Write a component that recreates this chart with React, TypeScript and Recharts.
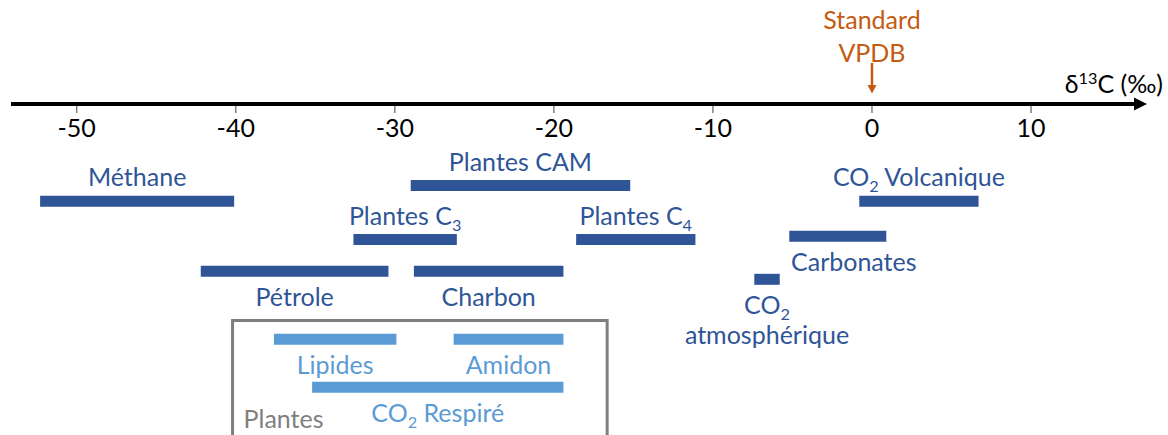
import React from 'react'
import { ComposedChart, XAxis, YAxis, Scatter, ReferenceDot, ReferenceArea } from 'recharts'

// Gammes de δ13C (‰)
const NOMS = [
  'Méthane',
  'Plantes CAM',
  'Plantes C3',
  'Plantes C4',
  'CO2 Volcanique',
  'Carbonates',
  'Pétrole',
  'Charbon',
  'CO2 atmosphérique',
  'Lipides',
  'Amidon',
  'CO2 Respiré'
]
const DEBUTS = [-52.3, -29.0, -32.6, -18.6, -0.8, -5.2, -42.2, -28.8, -7.4, -37.6, -26.3, -35.2]
const FINS = [-40.1, -15.2, -26.1, -11.1, 6.7, 0.9, -30.4, -19.4, -5.8, -29.9, -19.4, -19.4]
// rang vertical de chaque barre (0 = axe)
const RANGS = [9.73, 8.15, 13.55, 13.55, 9.73, 13.23, 16.73, 16.73, 17.53, 23.53, 23.53, 28.33]
// composés des plantes (bleu clair) ou réservoirs (bleu foncé)
const GROUPES = ['reservoir', 'reservoir', 'reservoir', 'reservoir', 'reservoir', 'reservoir', 'reservoir', 'reservoir', 'reservoir', 'plante', 'plante', 'plante']

const GRADUATIONS = [-50, -40, -30, -20, -10, 0, 10]
const DOMAINE_X = [-54.13, 16.85]
const DOMAINE_Y = [0, 33.1]
const STANDARD_VPDB = 0
// cadre "Plantes"
const BOITE_X = [-40.2, -16.65]
const BOITE_Y = [21.65, 35]

const FONT = 'Lato, "Open Sans", sans-serif'
const TAILLE = 25
const FONCE = '#2F5597'
const CLAIR = '#5B9BD5'
const ORANGE = '#C55A11'
const GRIS = '#7F7F7F'

// placement des étiquettes (style)
const DESSOUS = ['Carbonates', 'Pétrole', 'Charbon', 'CO2 atmosphérique', 'Lipides', 'Amidon', 'CO2 Respiré']
const DECALAGE: Record<string, number> = { Carbonates: 16 }
const SUR_DEUX_LIGNES = ['CO2 atmosphérique']

// chiffres après une lettre -> indice
const Riche = ({ texte, taille }: { texte: string; taille: number }) => {
  const morceaux = texte.split(/(\d+)/)
  const out: React.ReactNode[] = []
  let bas = false
  morceaux.forEach((m, i) => {
    if (m === '') return
    if (i % 2 === 1) {
      out.push(
        <tspan key={i} fontSize={taille * 0.65} dy={6}>
          {m}
        </tspan>
      )
      bas = true
    } else {
      out.push(
        <tspan key={i} dy={bas ? -6 : 0}>
          {m}
        </tspan>
      )
      bas = false
    }
  })
  return <>{out}</>
}

const Vide = () => <g />

const Etiquette = ({ cx, cy, nom, couleur }: any) => {
  const dessous = DESSOUS.includes(nom)
  const x = cx + (DECALAGE[nom] || 0)
  const lignes = SUR_DEUX_LIGNES.includes(nom) ? nom.split(' ') : [nom]
  const y0 = dessous ? cy + 35 : cy - 15
  return (
    <g>
      {lignes.map((l: string, k: number) => (
        <text key={k} x={x} y={y0 + k * 30} textAnchor="middle" fill={couleur} fontSize={TAILLE} fontFamily={FONT}>
          <Riche texte={l} taille={TAILLE} />
        </text>
      ))}
    </g>
  )
}

const Graduation = ({ x, y, payload }: any) => (
  <g>
    <line x1={x} x2={x} y1={y + 2} y2={y + 9} stroke="#808080" strokeWidth={1.5} />
    <text x={x} y={y + 33} textAnchor="middle" fill="#000" fontSize={TAILLE} fontFamily={FONT}>
      {payload.value}
    </text>
  </g>
)

const Fleche = ({ cx, cy }: any) => (
  <g>
    <polygon points={`${cx - 6},${cy - 6.5} ${cx + 7},${cy} ${cx - 6},${cy + 6.5}`} fill="#000" />
    <text x={cx + 23} y={cy - 11} textAnchor="end" fill="#000" fontSize={TAILLE} fontFamily={FONT}>
      δ
      <tspan fontSize={TAILLE * 0.65} dy={-9}>
        13
      </tspan>
      <tspan dy={9}>C (‰)</tspan>
    </text>
  </g>
)

const Standard = ({ cx, cy }: any) => (
  <g>
    <text x={cx} y={cy - 75} textAnchor="middle" fill={ORANGE} fontSize={TAILLE} fontFamily={FONT}>
      Standard
    </text>
    <text x={cx} y={cy - 42} textAnchor="middle" fill={ORANGE} fontSize={TAILLE} fontFamily={FONT}>
      VPDB
    </text>
    <line x1={cx} x2={cx} y1={cy - 41} y2={cy - 18} stroke={ORANGE} strokeWidth={2.5} />
    <polygon points={`${cx - 4.5},${cy - 19} ${cx + 4.5},${cy - 19} ${cx},${cy - 10.5}`} fill={ORANGE} />
  </g>
)

const TextePlantes = ({ cx, cy }: any) => (
  <text x={cx + 11} y={cy} textAnchor="start" fill={GRIS} fontSize={TAILLE} fontFamily={FONT}>
    Plantes
  </text>
)

export default function App() {
  return (
    <div style={{ position: 'absolute', left: 0, top: 0, background: '#fff' }}>
      <ComposedChart width={1168} height={435} margin={{ top: 103, right: 28, bottom: 0, left: 11 }}>
        <XAxis
          type="number"
          dataKey="x"
          domain={DOMAINE_X}
          ticks={GRADUATIONS}
          interval={0}
          orientation="top"
          height={1}
          tickSize={0}
          tickMargin={0}
          axisLine={{ stroke: '#000', strokeWidth: 4 }}
          tick={<Graduation />}
        />
        <YAxis type="number" dataKey="y" domain={DOMAINE_Y} reversed hide />
        <ReferenceArea
          x1={BOITE_X[0]}
          x2={BOITE_X[1]}
          y1={BOITE_Y[0]}
          y2={BOITE_Y[1]}
          fill="none"
          fillOpacity={0}
          stroke={GRIS}
          strokeWidth={3}
          ifOverflow="visible"
        />
        {NOMS.map((nom, i) => {
          const couleur = GROUPES[i] === 'plante' ? CLAIR : FONCE
          return (
            <Scatter
              key={nom}
              name={nom}
              data={[
                { x: DEBUTS[i], y: RANGS[i] },
                { x: FINS[i], y: RANGS[i] }
              ]}
              fill={couleur}
              line={{ stroke: couleur, strokeWidth: 11 }}
              shape={<Vide />}
              isAnimationActive={false}
            />
          )
        })}
        {NOMS.map((nom, i) => {
          const couleur = GROUPES[i] === 'plante' ? CLAIR : FONCE
          return (
            <ReferenceDot
              key={'lbl-' + nom}
              x={(DEBUTS[i] + FINS[i]) / 2}
              y={RANGS[i]}
              r={0}
              ifOverflow="visible"
              shape={(p: any) => <Etiquette cx={p.cx} cy={p.cy} nom={nom} couleur={couleur} />}
            />
          )
        })}
        <ReferenceDot x={BOITE_X[0]} y={32.4} r={0} ifOverflow="visible" shape={(p: any) => <TextePlantes cx={p.cx} cy={p.cy} />} />
        <ReferenceDot x={STANDARD_VPDB} y={0} r={0} ifOverflow="visible" shape={(p: any) => <Standard cx={p.cx} cy={p.cy} />} />
        <ReferenceDot x={DOMAINE_X[1]} y={0} r={0} ifOverflow="visible" shape={(p: any) => <Fleche cx={p.cx} cy={p.cy} />} />
      </ComposedChart>
    </div>
  )
}
